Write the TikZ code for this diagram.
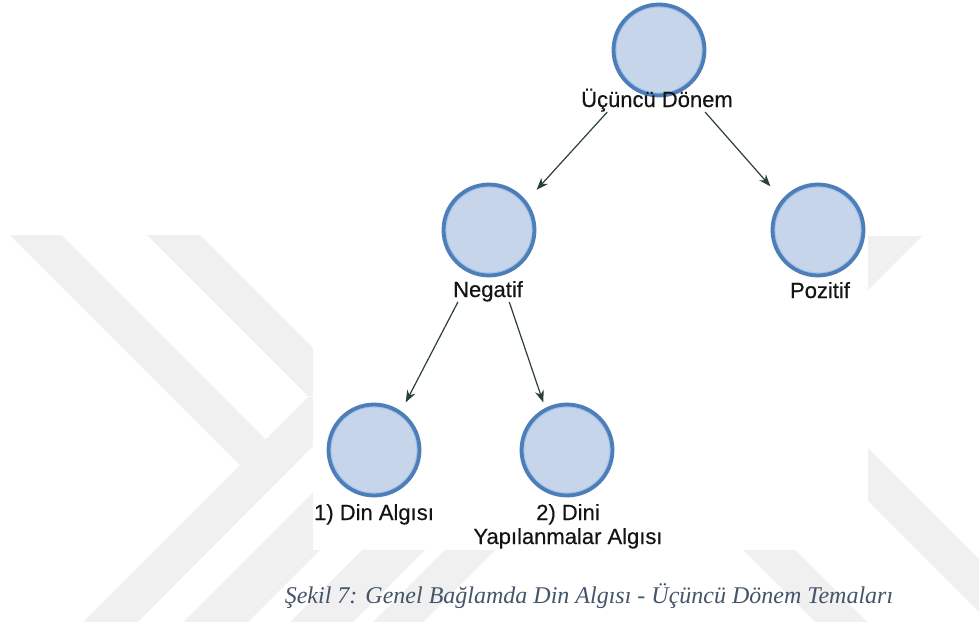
\documentclass[tikz,border=0pt]{standalone}
\usepackage{fontspec}
\setmainfont{Liberation Sans}
\newfontfamily\lblfont[FakeBold=0.35]{Liberation Sans}
\newfontfamily\capfont{Liberation Serif}
\usetikzlibrary{fit,arrows.meta}
\definecolor{wm}{RGB}{240,240,240}
\definecolor{cfill}{RGB}{198,213,234}
\definecolor{cring}{RGB}{78,126,184}
\definecolor{cinner}{RGB}{160,194,234}
\definecolor{edgec}{RGB}{45,64,56}
\definecolor{captc}{RGB}{68,84,106}
\definecolor{lblc}{RGB}{20,20,20}
\tikzset{
  concept/.style={circle, minimum size=91pt, inner sep=0pt, fill=cfill, draw=cring, line width=3.8pt,
    path picture={\draw[cinner, line width=1.6pt] (path picture bounding box.center) circle (43.3pt);}},
  lbl/.style={font=\lblfont\fontsize{22}{24}\selectfont, text=lblc, inner sep=0pt, align=center},
  box/.style={inner sep=0pt, draw=none},
  arr/.style={draw=edgec, line width=1.2pt, -{Stealth[length=12pt,width=9pt]}},
  wmark/.style={fill=wm, draw=none},
  sheet/.style={fill=white, draw=none},
  caption/.style={font=\capfont\itshape\fontsize{24}{28}\selectfont, text=captc, inner sep=0pt}
}
\begin{document}
\begin{tikzpicture}[x=1pt,y=-1pt]
\useasboundingbox (0,0) rectangle (979,621);
\begin{scope}
\clip (0,0) rectangle (979,621);
% watermark
\fill[wmark] (10,235) -- (62,235) -- (293,467) -- (240,465) -- cycle;
\fill[wmark] (147,235) -- (200,235) -- (362,397) -- (308,396) -- cycle;
\fill[wmark] (308,397) -- (362,397) -- (100,660) -- (45,660) -- cycle;
\fill[wmark] (365,440) -- (430,440) -- (210,660) -- (145,660) -- cycle;
\fill[wmark] (462,450) -- (525,450) -- (315,660) -- (252,660) -- cycle;
\fill[wmark] (545,450) -- (595,450) -- (385,660) -- (335,660) -- cycle;
\fill[wmark] (864,236) -- (922,236) -- (800,358) -- (742,358) -- cycle;
\fill[wmark] (807,440) -- (860,440) -- (1080,660) -- (1027,660) -- cycle;
\fill[wmark] (693,500) -- (745,500) -- (905,660) -- (853,660) -- cycle;
% screenshot sheet
\fill[sheet] (313,0) rectangle (868,550);
\end{scope}

% concepts
\node[concept] (cU) at (659,50) {};
\node[lbl, anchor=base] (lU) at (657,107) {Üçüncü Dönem};
\node[box, fit=(cU)(lU)] (U) {};

\node[concept] (cN) at (489,230) {};
\node[lbl, anchor=base] (lN) at (488,297) {Negatif};
\node[box, fit=(cN)(lN)] (N) {};

\node[concept] (cP) at (818,230) {};
\node[lbl, anchor=base] (lP) at (820,298) {Pozitif};
\node[box, fit=(cP)(lP)] (P) {};

\node[concept] (cD) at (374,450) {};
\node[lbl, anchor=base] (lD) at (374,520) {1) Din Algısı};
\node[box, fit=(cD)(lD)] (D) {};

\node[concept] (cY) at (567,450) {};
\node[lbl, anchor=base] (lY) at (568,544) {2) Dini\\Yapılanmalar Algısı};
\node[box, fit=(cY)(lY)] (Y) {};

% connectors
\draw[arr] (U) -- (N);
\draw[arr] (U) -- (P);
\draw[arr] (N) -- (D);
\draw[arr] (N) -- (Y);

% caption
\node[caption, anchor=base] (cap) at (589,603) {Şekil 7: Genel Bağlamda Din Algısı - Üçüncü Dönem Temaları};
\end{tikzpicture}
\end{document}
